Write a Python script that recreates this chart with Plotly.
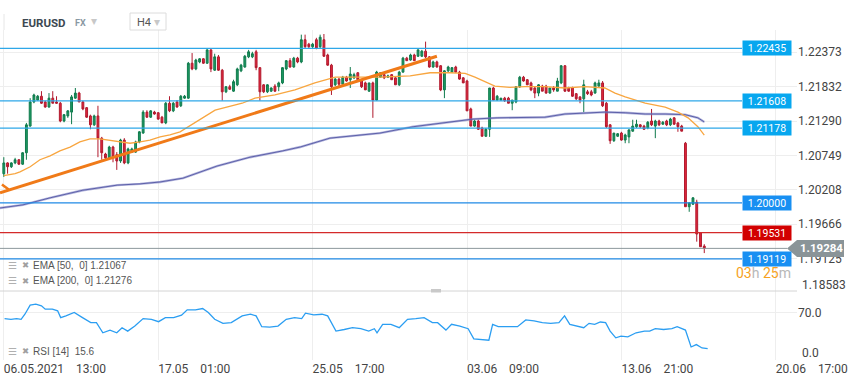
import plotly.graph_objects as go

W, H = 859, 385

# ---------------- data ----------------
tick_idx = [0, 41, 82, 123, 164, 205]
tick_text = ["06.05.2021\u00a0\u00a0\u00a0\u00a013:00", "17.05\u00a0\u00a0\u00a0\u00a001:00",
             "25.05\u00a0\u00a0\u00a0\u00a017:00", "03.06\u00a0\u00a0\u00a0\u00a009:00",
             "13.06\u00a0\u00a0\u00a0\u00a021:00", "20.06\u00a0\u00a0\u00a0\u00a017:00"]
price_ticks = [1.22373, 1.21832, 1.21290, 1.20749, 1.20208, 1.19666, 1.19125, 1.18583]
rsi_ticks = [0, 70]

opens = [
    1.2046, 1.2063, 1.2057, 1.2063, 1.2068, 1.2061, 1.2079, 1.2121, 1.2159, 1.2162,
    1.2168, 1.2159, 1.2151, 1.2165, 1.2159, 1.2157, 1.2129, 1.2137, 1.2143, 1.2165,
    1.2173, 1.2159, 1.2150, 1.2137, 1.2123, 1.2137, 1.2102, 1.2077, 1.2071, 1.2088,
    1.2076, 1.2066, 1.2099, 1.2063, 1.2080, 1.2080, 1.2096, 1.2110, 1.2143, 1.2135,
    1.2143, 1.2142, 1.2135, 1.2126, 1.2157, 1.2145, 1.2159, 1.2153, 1.2165, 1.2165,
    1.2220, 1.2211, 1.2222, 1.2227, 1.2220, 1.2241, 1.2209, 1.2230, 1.2209, 1.2175,
    1.2183, 1.2176, 1.2186, 1.2208, 1.2214, 1.2230, 1.2230, 1.2238, 1.2213, 1.2186,
    1.2175, 1.2176, 1.2184, 1.2183, 1.2189, 1.2211, 1.2224, 1.2214, 1.2228, 1.2222,
    1.2257, 1.2250, 1.2246, 1.2257, 1.2246, 1.2257, 1.2233, 1.2217, 1.2186, 1.2195,
    1.2187, 1.2198, 1.2194, 1.2197, 1.2205, 1.2194, 1.2189, 1.2176, 1.2189, 1.2162,
    1.2198, 1.2202, 1.2198, 1.2202, 1.2197, 1.2186, 1.2206, 1.2228, 1.2225, 1.2233,
    1.2231, 1.2231, 1.2239, 1.2230, 1.2214, 1.2222, 1.2216, 1.2178, 1.2208, 1.2206,
    1.2214, 1.2206, 1.2197, 1.2192, 1.2148, 1.2121, 1.2129, 1.2118, 1.2105, 1.2116,
    1.2181, 1.2162, 1.2162, 1.2165, 1.2165, 1.2157, 1.2159, 1.2183, 1.2198, 1.2194,
    1.2189, 1.2181, 1.2173, 1.2184, 1.2184, 1.2173, 1.2181, 1.2176, 1.2189, 1.2216,
    1.2181, 1.2181, 1.2172, 1.2167, 1.2164, 1.2175, 1.2175, 1.2173, 1.2184, 1.2189,
    1.2157, 1.2123, 1.2098, 1.2105, 1.2110, 1.2099, 1.2104, 1.2113, 1.2120, 1.2123,
    1.2121, 1.2118, 1.2129, 1.2121, 1.2129, 1.2124, 1.2129, 1.2123, 1.2134, 1.2126,
    1.2121, 1.2094, 1.1994, 1.1998, 1.2001, 1.1953, 1.1932]
highs = [
    1.2072, 1.2064, 1.2064, 1.2071, 1.2069, 1.2080, 1.2126, 1.2165, 1.2172, 1.2170,
    1.2176, 1.2161, 1.2173, 1.2176, 1.2168, 1.2159, 1.2140, 1.2146, 1.2170, 1.2181,
    1.2175, 1.2161, 1.2151, 1.2139, 1.2139, 1.2153, 1.2104, 1.2079, 1.2090, 1.2090,
    1.2080, 1.2101, 1.2102, 1.2087, 1.2087, 1.2098, 1.2113, 1.2146, 1.2146, 1.2146,
    1.2145, 1.2143, 1.2137, 1.2159, 1.2168, 1.2159, 1.2162, 1.2170, 1.2170, 1.2222,
    1.2236, 1.2227, 1.2228, 1.2228, 1.2242, 1.2242, 1.2235, 1.2233, 1.2211, 1.2184,
    1.2186, 1.2194, 1.2213, 1.2219, 1.2233, 1.2241, 1.2238, 1.2241, 1.2214, 1.2187,
    1.2187, 1.2182, 1.2187, 1.2191, 1.2214, 1.2225, 1.2228, 1.2230, 1.2230, 1.2265,
    1.2265, 1.2252, 1.2252, 1.2260, 1.2265, 1.2266, 1.2235, 1.2219, 1.2197, 1.2197,
    1.2200, 1.2200, 1.2214, 1.2205, 1.2206, 1.2195, 1.2191, 1.2189, 1.2191, 1.2208,
    1.2205, 1.2203, 1.2202, 1.2203, 1.2198, 1.2208, 1.2230, 1.2230, 1.2235, 1.2235,
    1.2242, 1.2241, 1.2254, 1.2231, 1.2224, 1.2224, 1.2217, 1.2209, 1.2216, 1.2214,
    1.2216, 1.2208, 1.2198, 1.2194, 1.2150, 1.2131, 1.2131, 1.2120, 1.2118, 1.2181,
    1.2183, 1.2170, 1.2165, 1.2167, 1.2167, 1.2162, 1.2184, 1.2200, 1.2200, 1.2195,
    1.2191, 1.2183, 1.2187, 1.2186, 1.2186, 1.2181, 1.2184, 1.2197, 1.2217, 1.2217,
    1.2183, 1.2183, 1.2173, 1.2168, 1.2194, 1.2178, 1.2178, 1.2191, 1.2194, 1.2192,
    1.2159, 1.2124, 1.2110, 1.2110, 1.2112, 1.2109, 1.2116, 1.2131, 1.2131, 1.2124,
    1.2123, 1.2129, 1.2148, 1.2131, 1.2131, 1.2129, 1.2131, 1.2134, 1.2135, 1.2127,
    1.2123, 1.2096, 1.2001, 1.2009, 1.2005, 1.1953, 1.1935]
lows = [
    1.2041, 1.2046, 1.2055, 1.2061, 1.2060, 1.2060, 1.2068, 1.2120, 1.2157, 1.2161,
    1.2156, 1.2150, 1.2150, 1.2157, 1.2156, 1.2127, 1.2127, 1.2134, 1.2124, 1.2164,
    1.2159, 1.2146, 1.2134, 1.2116, 1.2121, 1.2072, 1.2068, 1.2069, 1.2069, 1.2064,
    1.2052, 1.2063, 1.2061, 1.2061, 1.2079, 1.2079, 1.2094, 1.2109, 1.2134, 1.2134,
    1.2139, 1.2131, 1.2126, 1.2124, 1.2143, 1.2143, 1.2150, 1.2151, 1.2164, 1.2164,
    1.2209, 1.2209, 1.2220, 1.2219, 1.2219, 1.2206, 1.2208, 1.2208, 1.2161, 1.2173,
    1.2178, 1.2175, 1.2184, 1.2206, 1.2213, 1.2228, 1.2228, 1.2209, 1.2161, 1.2173,
    1.2173, 1.2175, 1.2175, 1.2176, 1.2187, 1.2209, 1.2213, 1.2213, 1.2220, 1.2220,
    1.2244, 1.2244, 1.2244, 1.2242, 1.2244, 1.2230, 1.2216, 1.2170, 1.2184, 1.2183,
    1.2186, 1.2191, 1.2181, 1.2195, 1.2194, 1.2181, 1.2178, 1.2175, 1.2134, 1.2161,
    1.2197, 1.2195, 1.2197, 1.2194, 1.2186, 1.2184, 1.2205, 1.2224, 1.2224, 1.2224,
    1.2230, 1.2230, 1.2228, 1.2213, 1.2213, 1.2213, 1.2176, 1.2165, 1.2206, 1.2205,
    1.2205, 1.2194, 1.2189, 1.2145, 1.2121, 1.2120, 1.2115, 1.2105, 1.2104, 1.2104,
    1.2162, 1.2161, 1.2161, 1.2159, 1.2157, 1.2146, 1.2157, 1.2181, 1.2191, 1.2186,
    1.2176, 1.2165, 1.2168, 1.2176, 1.2172, 1.2172, 1.2175, 1.2176, 1.2187, 1.2175,
    1.2175, 1.2167, 1.2162, 1.2157, 1.2143, 1.2170, 1.2168, 1.2172, 1.2183, 1.2151,
    1.2118, 1.2093, 1.2096, 1.2104, 1.2098, 1.2094, 1.2094, 1.2112, 1.2118, 1.2118,
    1.2115, 1.2116, 1.2121, 1.2102, 1.2121, 1.2123, 1.2121, 1.2121, 1.2123, 1.2112,
    1.2113, 1.1994, 1.1986, 1.1997, 1.1939, 1.1931, 1.1921]
closes = [
    1.2063, 1.2057, 1.2063, 1.2068, 1.2061, 1.2079, 1.2123, 1.2159, 1.2170, 1.2168,
    1.2157, 1.2151, 1.2165, 1.2157, 1.2157, 1.2129, 1.2139, 1.2145, 1.2167, 1.2173,
    1.2159, 1.2148, 1.2135, 1.2123, 1.2137, 1.2102, 1.2079, 1.2071, 1.2088, 1.2072,
    1.2066, 1.2099, 1.2063, 1.2085, 1.2085, 1.2096, 1.2112, 1.2143, 1.2135, 1.2145,
    1.2140, 1.2132, 1.2126, 1.2157, 1.2145, 1.2157, 1.2151, 1.2168, 1.2168, 1.2220,
    1.2211, 1.2225, 1.2227, 1.2220, 1.2241, 1.2211, 1.2230, 1.2209, 1.2175, 1.2183,
    1.2179, 1.2191, 1.2211, 1.2217, 1.2231, 1.2238, 1.2235, 1.2213, 1.2175, 1.2175,
    1.2186, 1.2181, 1.2176, 1.2189, 1.2213, 1.2224, 1.2214, 1.2228, 1.2222, 1.2257,
    1.2246, 1.2246, 1.2250, 1.2244, 1.2261, 1.2231, 1.2217, 1.2183, 1.2195, 1.2187,
    1.2198, 1.2192, 1.2203, 1.2202, 1.2194, 1.2183, 1.2178, 1.2189, 1.2162, 1.2206,
    1.2205, 1.2197, 1.2200, 1.2194, 1.2186, 1.2206, 1.2228, 1.2224, 1.2233, 1.2224,
    1.2241, 1.2239, 1.2230, 1.2214, 1.2222, 1.2214, 1.2178, 1.2208, 1.2214, 1.2213,
    1.2206, 1.2195, 1.2189, 1.2145, 1.2121, 1.2129, 1.2116, 1.2105, 1.2116, 1.2181,
    1.2162, 1.2168, 1.2165, 1.2161, 1.2157, 1.2162, 1.2183, 1.2198, 1.2192, 1.2186,
    1.2178, 1.2173, 1.2186, 1.2176, 1.2173, 1.2181, 1.2178, 1.2192, 1.2216, 1.2176,
    1.2176, 1.2168, 1.2164, 1.2162, 1.2186, 1.2172, 1.2170, 1.2189, 1.2189, 1.2153,
    1.2120, 1.2098, 1.2110, 1.2109, 1.2099, 1.2107, 1.2115, 1.2121, 1.2124, 1.2120,
    1.2116, 1.2127, 1.2123, 1.2129, 1.2123, 1.2127, 1.2123, 1.2132, 1.2124, 1.2120,
    1.2113, 1.1994, 1.2000, 1.2008, 1.1951, 1.1931, 1.19284]

ema50_x = [0, 3, 4.3, 7, 9.6, 12.3, 14.9, 17.6, 20.2, 22.9, 25.5, 28.2, 30.9, 33.5, 36.2,
           38.8, 41.5, 44.1, 46.8, 50.8, 56.1, 63.3, 66.7, 72, 77.3, 82.6, 88, 93.3, 99.9,
           107.9, 113.2, 118.5, 122.5, 125.1, 127.8, 130.4, 134.4, 138.4, 143.7, 149, 154.3,
           159.6, 162.3, 165, 170.3, 175.6, 179, 181.7, 184.3, 186]
ema50_y = [1.2043, 1.2046, 1.2049, 1.2057, 1.2068, 1.2074, 1.2082, 1.2088, 1.2096, 1.2101,
           1.2101, 1.2099, 1.2096, 1.2094, 1.2096, 1.2099, 1.2104, 1.2107, 1.2112, 1.2127,
           1.2146, 1.2157, 1.2165, 1.2170, 1.2178, 1.2189, 1.2198, 1.2198, 1.2198, 1.2200,
           1.2205, 1.2205, 1.2204, 1.2198, 1.2191, 1.2184, 1.2182, 1.2183, 1.2183, 1.2181,
           1.2183, 1.2181, 1.2173, 1.2167, 1.2157, 1.2151, 1.2143, 1.2134, 1.2120, 1.21067]

ema200_x = [-1, 5.1, 12.3, 21, 30.1, 36.2, 41.5, 47.6, 56.6, 65.4, 74.1, 78.7, 86.6, 99.9,
            108.7, 117.7, 124.6, 131, 138.4, 143.7, 149, 154.3, 159.6, 165, 170.3, 175.6,
            180.9, 184.3, 186]
ema200_y = [1.1992, 1.1997, 1.2008, 1.2020, 1.2028, 1.2030, 1.2033, 1.2039, 1.2058, 1.2072,
            1.2082, 1.2088, 1.2102, 1.2110, 1.2120, 1.2127, 1.2132, 1.2134, 1.2134, 1.2135,
            1.2140, 1.2142, 1.2143, 1.2142, 1.2140, 1.2140, 1.2139, 1.2134, 1.21276]

rsi_x = [0.2, 1.9, 3.4, 4.6, 5.6, 7, 8.5, 10, 11, 12.9, 14.3, 15.1, 16.5, 18.7, 20.9, 23.1,
         24.6, 26.3, 28.2, 30, 31.4, 32.9, 34.8, 37, 39.2, 41.1, 42.9, 45.1, 47.2, 48.7, 50.9,
         52.8, 54.3, 56, 58.2, 60.4, 63.3, 65.5, 67, 68.5, 70.6, 72.8, 75, 77.2, 79.1, 80.1,
         82.3, 84.5, 86, 88.2, 90.4, 92.6, 94.8, 96.9, 98.4, 99.1, 100.6, 102.8, 105, 107.2,
         109.4, 111.6, 113.8, 115.2, 117.4, 118.9, 121.1, 123.3, 124.8, 127, 128.8, 129.8,
         131.3, 133.5, 136.4, 138.6, 140.8, 143, 145.2, 147.4, 148.9, 150.3, 152.5, 154,
         155.4, 156.9, 158.4, 159.8, 161, 162.5, 163.9, 165.7, 167.9, 170.1, 171.5, 173,
         175.2, 177.4, 178.8, 181, 182.5, 183.9, 185.4, 186.9]
rsi_y = [60.8, 59.8, 60.8, 59.8, 67.4, 81.1, 82.7, 80.1, 75, 75, 72.5, 62.3, 64.9, 70, 62.3,
         54.7, 54.7, 39.5, 43.5, 39.5, 47.1, 42, 49.6, 60.8, 59.8, 56.2, 62.3, 62.3, 65.9, 74,
         74, 76, 70, 59.8, 53.7, 54.7, 64.9, 67.4, 64.9, 48.6, 48.1, 49.6, 59.8, 62.3, 60.8,
         68.9, 66.4, 67.4, 64.9, 42, 44.4, 47.1, 45.6, 42, 45.6, 39.5, 52.2, 52.2, 47.1, 59.8,
         60.8, 62.3, 54.7, 54.7, 43.5, 52.2, 49.6, 45.6, 30.3, 29.3, 28.3, 52.2, 48.6, 48.6,
         48.6, 58.8, 57.4, 54.7, 53.7, 54.7, 64.9, 52.2, 48.6, 47.1, 53.7, 52.2, 55.7, 54.7,
         42, 31.9, 34.4, 33.4, 39.5, 42, 42, 45.6, 44.4, 45.6, 48.6, 43.5, 18.1, 21.7, 16.6,
         15.6]

levels = [1.22435, 1.21608, 1.21178, 1.20000, 1.19531, 1.19119]
level_line_colors = ["#2ea7e8", "#2ea7e8", "#2ea7e8", "#1f8ae6", "#d42a2a", "#1f8ae6"]
level_box_colors = ["#07a7ef", "#07a7ef", "#07a7ef", "#188ff2", "#d20000", "#188ff2"]

trend_x = [-1.01, 115.0]
trend_y = [1.2016, 1.2231]
stub_x = [-0.5, 1.3]
stub_y = [1.2029, 1.2021]

ema50_last = 1.21067
ema200_last = 1.21276
rsi_last = 15.6
current_price = closes[-1]

# ---------------- layout geometry (pixels) ----------------
PLOT_R = 797
MAIN_TOP, MAIN_BOT = 30, 293.5
RSI_TOP, RSI_BOT = 294, 360
PX_PER_PRICE = 6350.0
REF_PRICE, REF_Y = 1.22435, 48.3
RSI_PX_PER_UNIT = 46.5 / 70.0
RSI_ZERO_Y = 359.0
X0_PX, DX_PX = 3.8, 3.766


def fx(p):
    return p / W


def fy(p):
    return 1 - p / H


y_lo = REF_PRICE - (MAIN_BOT - REF_Y) / PX_PER_PRICE
y_hi = REF_PRICE + (REF_Y - MAIN_TOP) / PX_PER_PRICE
r_lo = -(RSI_BOT - RSI_ZERO_Y) / RSI_PX_PER_UNIT
r_hi = (RSI_ZERO_Y - RSI_TOP) / RSI_PX_PER_UNIT
x_lo = (0 - X0_PX) / DX_PX
x_hi = (PLOT_R - X0_PX) / DX_PX

fig = go.Figure()

fig.add_trace(go.Candlestick(
    x=list(range(len(opens))), open=opens, high=highs, low=lows, close=closes,
    increasing=dict(line=dict(color="#0f7a4c", width=1), fillcolor="#1e9a63"),
    decreasing=dict(line=dict(color="#b0192d", width=1), fillcolor="#e2283d"),
    whiskerwidth=0, hoverinfo="skip", showlegend=False, xaxis="x", yaxis="y"))

fig.add_trace(go.Scatter(x=ema200_x, y=ema200_y, mode="lines",
                         line=dict(color="rgba(128,131,198,0.6)", width=2.4),
                         hoverinfo="skip", xaxis="x", yaxis="y"))
fig.add_trace(go.Scatter(x=ema200_x, y=ema200_y, mode="lines",
                         line=dict(color="#5357a3", width=0.9),
                         hoverinfo="skip", xaxis="x", yaxis="y"))
fig.add_trace(go.Scatter(x=ema50_x, y=ema50_y, mode="lines",
                         line=dict(color="#f8a640", width=1.3),
                         hoverinfo="skip", xaxis="x", yaxis="y"))
fig.add_trace(go.Scatter(x=trend_x, y=trend_y, mode="lines",
                         line=dict(color="#f07a18", width=3),
                         hoverinfo="skip", xaxis="x", yaxis="y"))
fig.add_trace(go.Scatter(x=stub_x, y=stub_y, mode="lines",
                         line=dict(color="#f07a18", width=2.5),
                         hoverinfo="skip", xaxis="x", yaxis="y"))
fig.add_trace(go.Scatter(x=rsi_x, y=rsi_y, mode="lines",
                         line=dict(color="#2b9ef2", width=1.3),
                         hoverinfo="skip", xaxis="x2", yaxis="y2"))

shapes = []
annotations = []

# horizontal levels with price boxes
for lv, lc, bc in zip(levels, level_line_colors, level_box_colors):
    shapes.append(dict(type="line", xref="paper", yref="y", x0=0, x1=fx(742),
                       y0=lv, y1=lv, line=dict(color=lc, width=1.2)))
    annotations.append(dict(xref="paper", yref="y", x=fx(767), y=lv, text=f"{lv:.5f}",
                            showarrow=False, xanchor="center", yanchor="middle",
                            bgcolor=bc, width=46, height=12, borderpad=1,
                            font=dict(family="Roboto", size=10.5, color="white")))

# current price line + arrow box
hh = 8.5 / PX_PER_PRICE
shapes.append(dict(type="line", xref="paper", yref="y", x0=0, x1=fx(787),
                   y0=current_price, y1=current_price, line=dict(color="#8d989c", width=1)))
shapes.append(dict(type="path", xref="paper", yref="y",
                   path=(f"M {fx(787)},{current_price} L {fx(797)},{current_price + hh} "
                         f"L {fx(844)},{current_price + hh} L {fx(844)},{current_price - hh} "
                         f"L {fx(797)},{current_price - hh} Z"),
                   fillcolor="#8a9498", line=dict(width=0)))
annotations.append(dict(xref="paper", yref="y", x=fx(821.5), y=current_price,
                        text=f"<b>{current_price:.5f}</b>", showarrow=False,
                        xanchor="center", yanchor="middle",
                        font=dict(family="Roboto", size=11.5, color="white")))

# lowest price label and RSI zero label sit inside their panels (clamped like the reference)
annotations.append(dict(xref="paper", yref="y", x=fx(PLOT_R + 3), y=price_ticks[-1],
                        text=f"{price_ticks[-1]:.5f}", showarrow=False, xanchor="left",
                        yanchor="bottom", yshift=-1, font=dict(family="Roboto", size=12, color="#444")))
annotations.append(dict(xref="paper", yref="y2", x=fx(PLOT_R + 3), y=rsi_ticks[0],
                        text=f"{rsi_ticks[0]:.1f}", showarrow=False, xanchor="left",
                        yanchor="bottom", yshift=-3, font=dict(family="Roboto", size=12, color="#444")))

# countdown
annotations.append(dict(xref="paper", yref="paper", x=fx(763), y=fy(272.5),
                        text=('<span style="color:#f6a21e">03</span><span style="color:#b8b8b8">h</span> '
                              '<span style="color:#f6a21e">25</span><span style="color:#b8b8b8">m</span>'),
                        showarrow=False, xanchor="center", yanchor="middle",
                        font=dict(family="Roboto", size=14)))

# separator between panels, resize handle
shapes.append(dict(type="line", xref="paper", yref="paper", x0=0, x1=fx(PLOT_R),
                   y0=fy(291), y1=fy(291), line=dict(color="#d4d4d4", width=1)))
shapes.append(dict(type="rect", xref="paper", yref="paper", x0=fx(431), x1=fx(441),
                   y0=fy(292.5), y1=fy(289), fillcolor="#c9c9c9", line=dict(width=0)))

# header
shapes.append(dict(type="line", xref="paper", yref="paper", x0=fx(4), x1=fx(4),
                   y0=fy(30), y1=fy(14), line=dict(color="#e6e6e6", width=1)))
shapes.append(dict(type="rect", xref="paper", yref="paper", x0=fx(130), x1=fx(166),
                   y0=fy(30), y1=fy(13), fillcolor="white", line=dict(color="#dcdcdc", width=1)))
annotations += [
    dict(xref="paper", yref="paper", x=fx(20), y=fy(23), text="<b>EURUSD</b>", showarrow=False,
         xanchor="left", yanchor="middle", font=dict(family="Roboto", size=11.5, color="#3d4852")),
    dict(xref="paper", yref="paper", x=fx(73), y=fy(23), text="<b>FX</b>", showarrow=False,
         xanchor="left", yanchor="middle", font=dict(family="Roboto", size=9, color="#8a99a3")),
    dict(xref="paper", yref="paper", x=fx(94), y=fy(21), text="\u25BE", showarrow=False,
         xanchor="center", yanchor="middle", font=dict(family="DejaVu Sans", size=12, color="#c8c8c8")),
    dict(xref="paper", yref="paper", x=fx(135), y=fy(22.5), text="H4", showarrow=False,
         xanchor="left", yanchor="middle", font=dict(family="Roboto", size=11, color="#555")),
    dict(xref="paper", yref="paper", x=fx(157), y=fy(22), text="\u25BE", showarrow=False,
         xanchor="center", yanchor="middle", font=dict(family="DejaVu Sans", size=12, color="#c8c8c8")),
]


def legend_row(ypx, label):
    return [
        dict(xref="paper", yref="paper", x=fx(6), y=fy(ypx), text="\u2630", showarrow=False,
             xanchor="left", yanchor="middle", font=dict(family="DejaVu Sans", size=10, color="#b0b0b0")),
        dict(xref="paper", yref="paper", x=fx(20), y=fy(ypx), text="\u2716", showarrow=False,
             xanchor="left", yanchor="middle", font=dict(family="DejaVu Sans", size=8.5, color="#a0a0a0")),
        dict(xref="paper", yref="paper", x=fx(31), y=fy(ypx), text=label, showarrow=False,
             xanchor="left", yanchor="middle", font=dict(family="Liberation Sans", size=10, color="#555")),
    ]


annotations += legend_row(265, f"EMA [50,  0] {ema50_last:.5f}")
annotations += legend_row(280.5, f"EMA [200,  0] {ema200_last:.5f}")
annotations += legend_row(351, f"RSI [14]  {rsi_last}")

axis_font = dict(family="Roboto", size=12, color="#444")

fig.update_layout(
    width=W, height=H, margin=dict(l=0, r=0, t=0, b=0),
    paper_bgcolor="white", plot_bgcolor="white", showlegend=False,
    template="none", boxgap=0.3,
    xaxis=dict(domain=[0, fx(PLOT_R)], range=[x_lo, x_hi], anchor="y",
               tickvals=tick_idx, showticklabels=False, showgrid=True, gridcolor="#eeeeee",
               gridwidth=1, zeroline=False, showline=False, ticks="",
               rangeslider=dict(visible=False), automargin=False),
    xaxis2=dict(domain=[0, fx(PLOT_R)], range=[x_lo, x_hi], anchor="y2",
                tickvals=tick_idx, ticktext=tick_text, ticklabelposition="outside right",
                tickfont=axis_font, showgrid=True, gridcolor="#eeeeee", gridwidth=1,
                zeroline=False, showline=False, ticks="", automargin=False),
    yaxis=dict(domain=[fy(MAIN_BOT), fy(MAIN_TOP)], range=[y_lo, y_hi], anchor="x",
               side="right", tickvals=price_ticks,
               ticktext=[f"{v:.5f}" for v in price_ticks[:-1]] + [""],
               tickfont=axis_font, showgrid=True, gridcolor="#eeeeee", gridwidth=1,
               zeroline=False, showline=False, ticks="", automargin=False),
    yaxis2=dict(domain=[fy(RSI_BOT), fy(RSI_TOP)], range=[r_lo, r_hi], anchor="x2",
                side="right", tickvals=rsi_ticks, ticktext=[""] + [f"{v:.1f}" for v in rsi_ticks[1:]],
                tickfont=axis_font, showgrid=True, gridcolor="#eeeeee", gridwidth=1,
                zeroline=False, showline=False, ticks="", automargin=False),
    shapes=shapes, annotations=annotations,
)

fig.write_html("out.html", config={"displayModeBar": False},
               post_script="document.body.style.margin='0';document.body.style.overflow='hidden';")
